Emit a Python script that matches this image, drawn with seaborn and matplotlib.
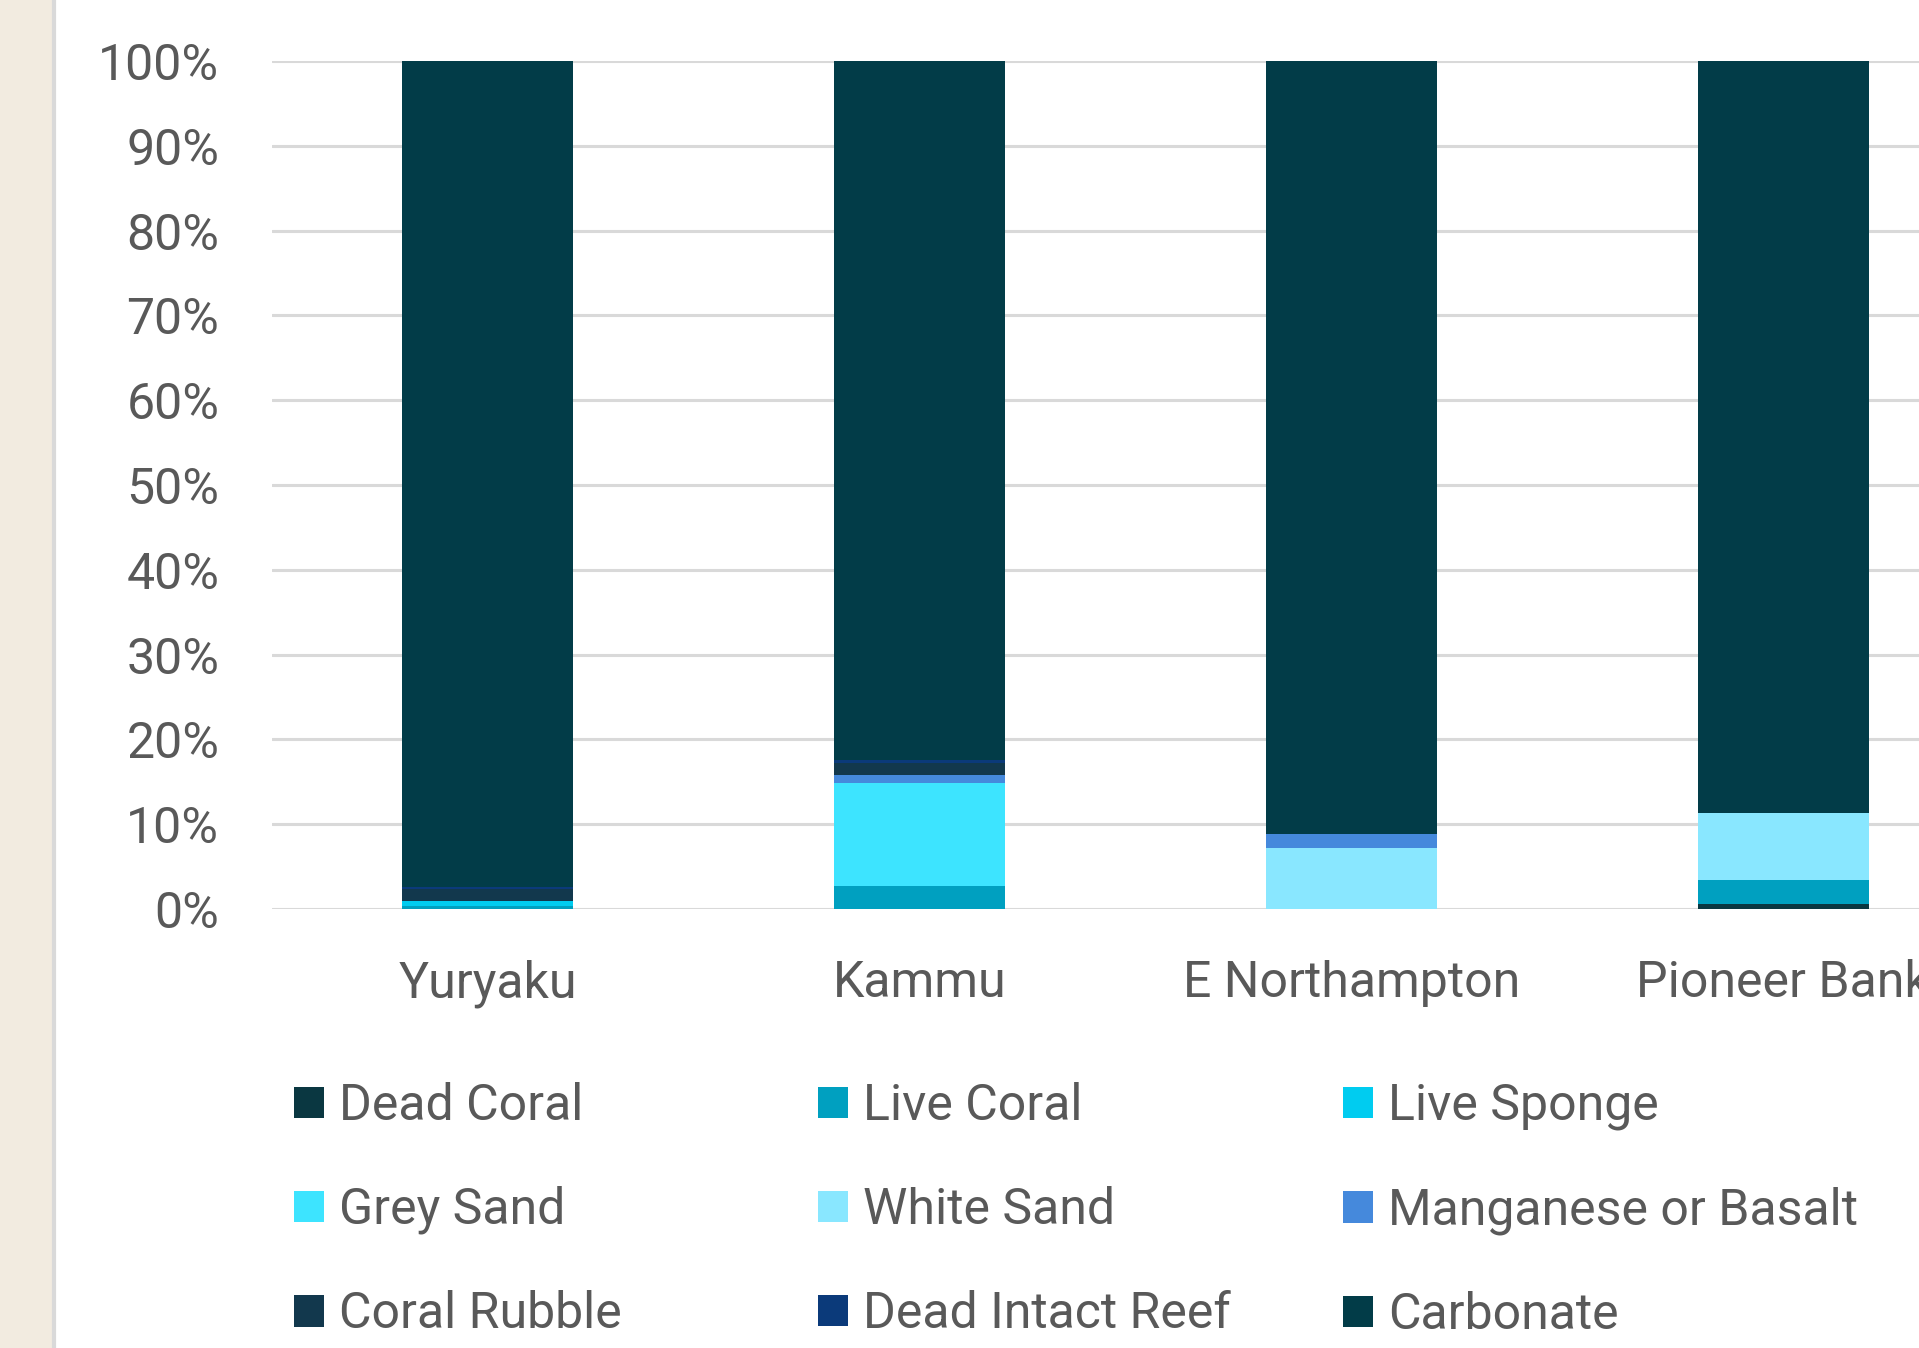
import numpy as np
import pandas as pd
import matplotlib
matplotlib.use("Agg")
import matplotlib.pyplot as plt
import seaborn as sns
from matplotlib.patches import Patch, Rectangle
from matplotlib.lines import Line2D

# Data (percent of each site, bottom to top)
sites = ["Yuryaku", "Kammu", "E Northampton", "Pioneer Bank"]
series = ["Dead Coral", "Live Coral", "Live Sponge", "Grey Sand", "White Sand",
          "Manganese or Basalt", "Coral Rubble", "Dead Intact Reef", "Carbonate"]
dead_coral = [0.0, 0.0, 0.0, 0.6]
live_coral = [0.3, 2.7, 0.0, 2.8]
live_sponge = [0.6, 0.0, 0.0, 0.0]
grey_sand = [0.0, 12.1, 0.0, 0.0]
white_sand = [0.0, 0.0, 7.2, 7.9]
manganese = [0.0, 1.0, 1.6, 0.0]
coral_rubble = [1.5, 1.45, 0.0, 0.0]
dead_intact_reef = [0.25, 0.3, 0.0, 0.0]
carbonate = [97.35, 82.45, 91.2, 88.7]

colors = ["#0A3741", "#00A0C0", "#00CCF0", "#3DE4FF", "#89E7FF",
          "#4589DC", "#12384D", "#0B3A7A", "#023C48"]

df = pd.DataFrame([dead_coral, live_coral, live_sponge, grey_sand, white_sand,
                   manganese, coral_rubble, dead_intact_reef, carbonate],
                  index=series, columns=sites)
cum = df.cumsum()

sns.set_theme(style="white")
font = ["Roboto", "DejaVu Sans"]
plt.rcParams["font.family"] = font
grey_txt = "#595959"

fig = plt.figure(figsize=(19.19, 13.48), dpi=100)
W, H = 1919, 1348

# beige strip on the left
fig.patches.append(Rectangle((0, 0), 52 / W, 1, transform=fig.transFigure,
                             facecolor="#F2EBE0", edgecolor="none", zorder=0))
fig.lines.append(Line2D([53.5 / W, 53.5 / W], [0, 1], transform=fig.transFigure,
                        color="#D9D9D9", lw=3, zorder=1))

ax = fig.add_axes([272 / W, 1 - 909 / H, (1999 - 272) / W, (909 - 61) / H])

# stacked bars drawn as overlaid cumulative totals, top series first
for name, col in reversed(list(zip(series, colors))):
    sns.barplot(x=sites, y=cum.loc[name].values, color=col, width=0.396,
                ax=ax, saturation=1, linewidth=0, zorder=3)

ax.set_xlim(-0.5, 3.5)
ax.set_ylim(0, 100)
ax.set_yticks(range(0, 101, 10))
ax.set_yticklabels([f"{v}%" for v in range(0, 101, 10)])
ax.set_xlabel("")
ax.set_ylabel("")
ax.yaxis.grid(True, color="#D9D9D9", lw=2.2, zorder=0)
ax.xaxis.grid(False)
ax.set_axisbelow(True)
for s in ax.spines.values():
    s.set_visible(False)
ax.tick_params(axis="y", length=0, pad=38, labelsize=36, labelcolor=grey_txt)
ax.tick_params(axis="x", length=0, pad=36, labelsize=36, labelcolor=grey_txt)
for t in ax.get_xticklabels() + ax.get_yticklabels():
    t.set_family(font)

# legend: three fixed-width columns
handles = [Patch(facecolor=c, edgecolor="none") for c in colors]
col_x = [294, 818, 1343]
for j in range(3):
    idx = [j, j + 3, j + 6]
    fig.legend([handles[i] for i in idx], [series[i] for i in idx],
               loc="upper left", bbox_to_anchor=(col_x[j] / W, 1 - 1082 / H),
               frameon=False, borderpad=0, borderaxespad=0,
               handlelength=0.6, handleheight=0.6, handletextpad=0.3,
               labelspacing=1.12, labelcolor=grey_txt,
               prop={"family": font, "size": 36})

fig.savefig("out.png", dpi=100)
